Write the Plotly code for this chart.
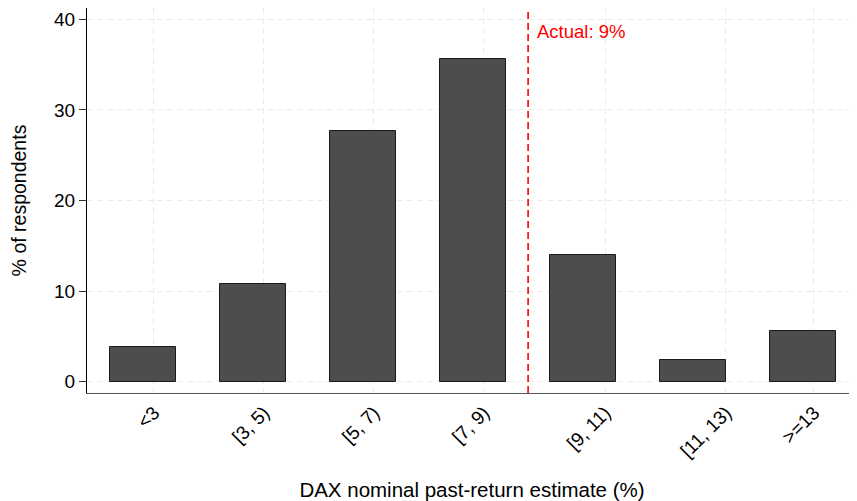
import plotly.graph_objects as go

# Data
categories = ["<3", "[3, 5)", "[5, 7)", "[7, 9)", "[9, 11)", "[11, 13)", ">=13"]
bin_mid = [2, 4, 6, 8, 10, 12, 14]
pct_respondents = [3.87, 10.76, 27.7, 35.6, 14.0, 2.36, 5.6]
actual_value = 9
actual_label = "Actual: 9%"
y_ticks = [0, 10, 20, 30, 40]

# layout-only tick label anchor positions (label anchors sit slightly right of bar centres)
label_pos = [2.198, 4.198, 6.198, 8.198, 10.402, 12.598, 14.198]

FONT = "Liberation Sans, Arial, Helvetica, sans-serif"

fig = go.Figure()
fig.add_trace(go.Bar(
    x=bin_mid, y=pct_respondents, width=1.19,
    marker=dict(color="#4d4d4d", line=dict(color="#1a1a1a", width=1)),
    showlegend=False, hoverinfo="y",
))

fig.add_vline(x=actual_value, line=dict(color="#ff0000", width=1.6, dash="7px,4px"))
fig.add_annotation(x=actual_value, y=1, xref="x", yref="paper", yanchor="top",
                   xanchor="left", xshift=7, yshift=-11, text=actual_label, showarrow=False,
                   font=dict(color="#ff0000", size=18.5, family=FONT))

# page body has an 8px default margin: compensate so the plot sits where the reference does
fig.update_layout(
    width=849, height=493,
    margin=dict(l=79, r=0, t=0, b=108),
    paper_bgcolor="white", plot_bgcolor="white",
    font=dict(family=FONT, color="black", size=19),
    bargap=0,
    xaxis=dict(
        range=[0.98, 14.98], tickmode="array", tickvals=label_pos, ticktext=categories,
        tickangle=-45, showgrid=True, gridcolor="#ebebeb", griddash="6px,4px", gridwidth=1.2,
        showline=True, linecolor="#555555", linewidth=1.3, ticks="", zeroline=False,
        tickfont=dict(size=19), automargin=False,
        title=dict(text="DAX nominal past-return estimate (%)", font=dict(size=20.5), standoff=22),
    ),
    yaxis=dict(
        range=[-1.25, 41.25], tickmode="array", tickvals=y_ticks,
        showgrid=True, gridcolor="#ebebeb", griddash="6px,4px", gridwidth=1.2,
        showline=True, linecolor="black", linewidth=1.3, ticks="outside", ticklen=7,
        tickcolor="#333333", zeroline=False, tickfont=dict(size=19), automargin=False,
        title=dict(text="% of respondents", font=dict(size=19.5), standoff=24),
    ),
)

fig.write_html("out.html")
